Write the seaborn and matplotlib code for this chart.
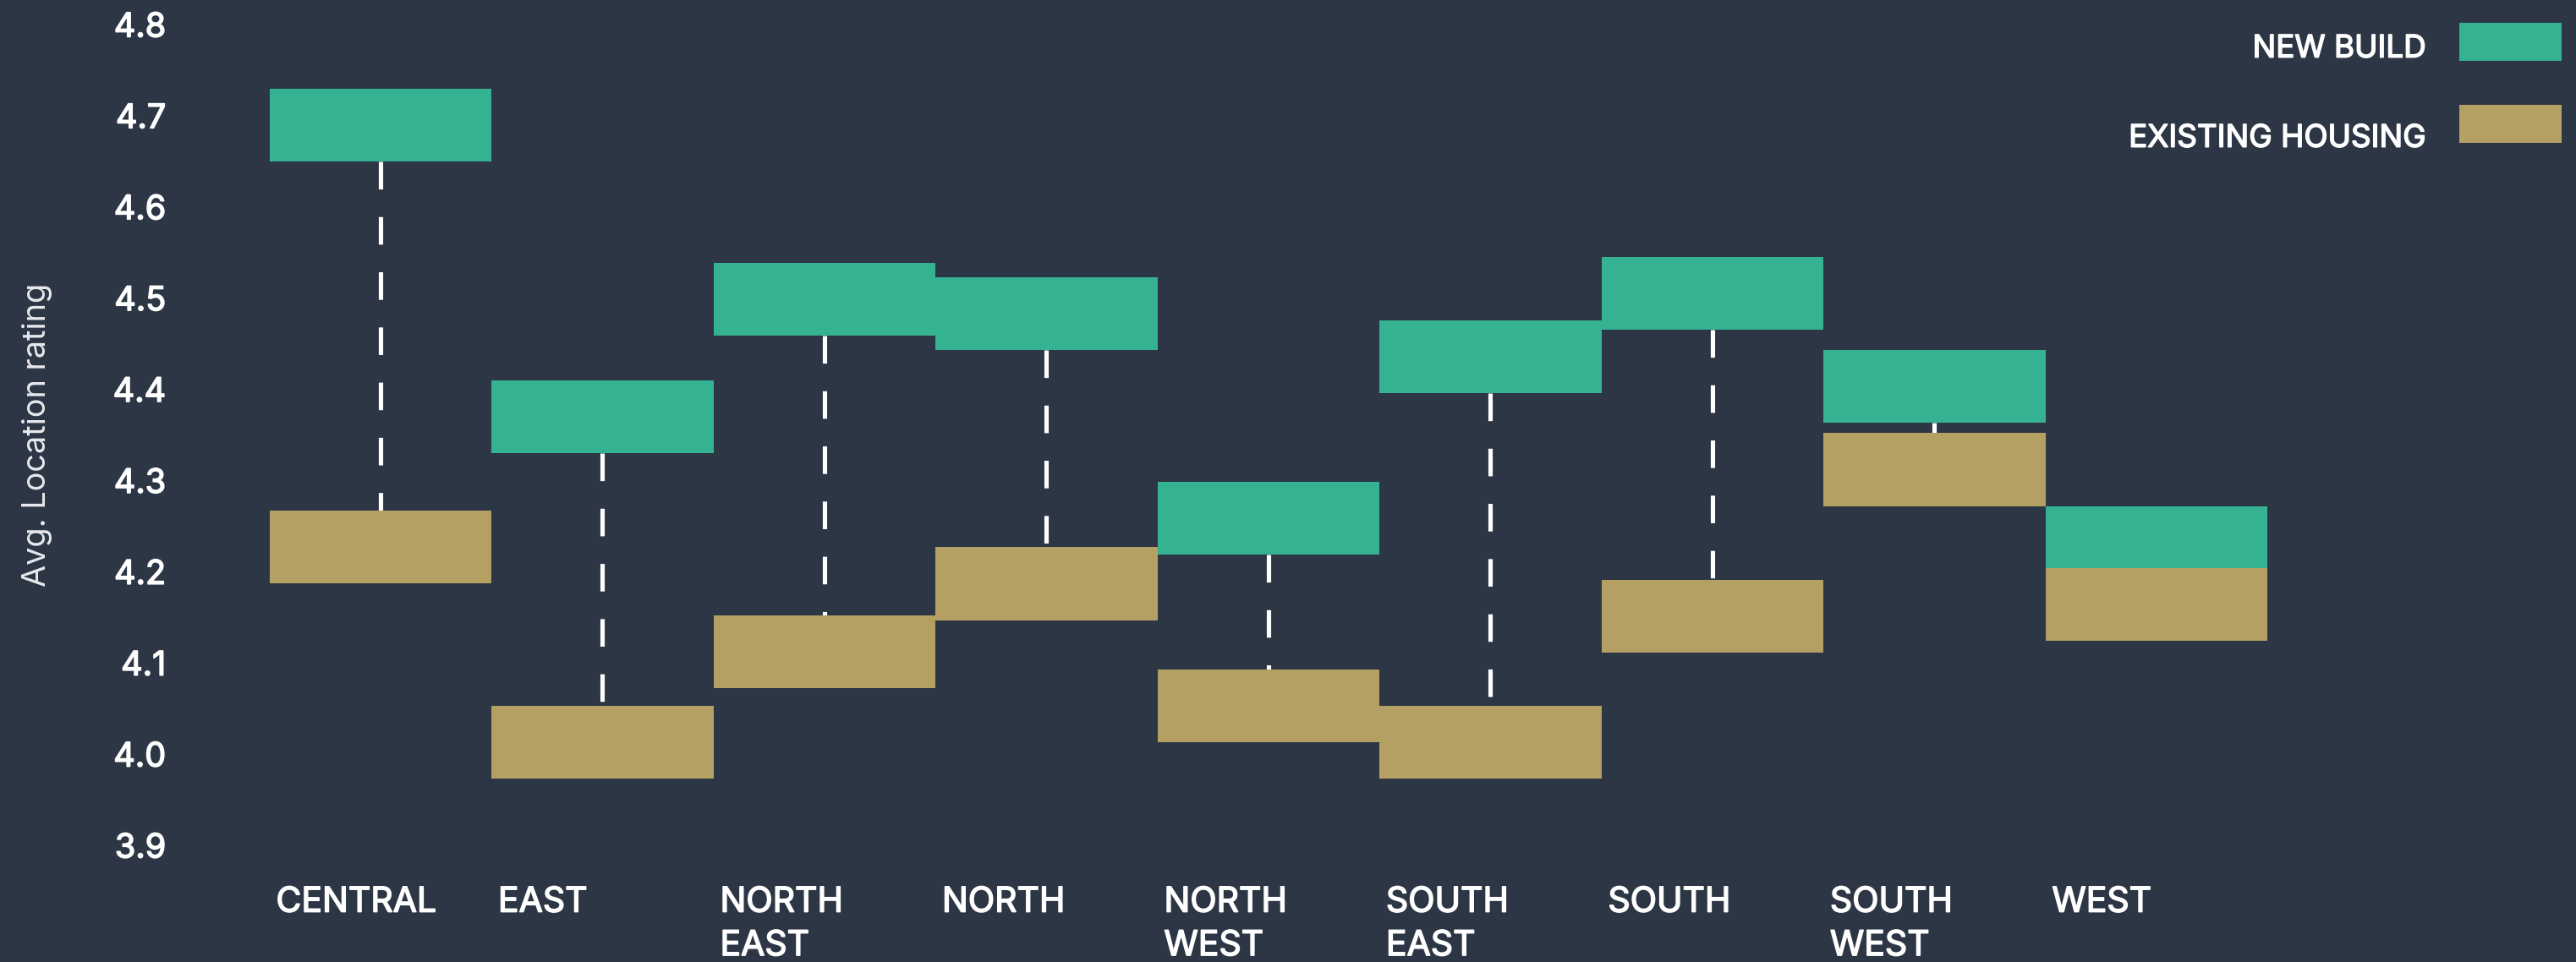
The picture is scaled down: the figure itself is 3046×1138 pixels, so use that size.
import numpy as np
import pandas as pd
import seaborn as sns
import matplotlib.pyplot as plt
import matplotlib.patheffects as pe
import matplotlib.transforms as mtransforms
from matplotlib.patches import Patch

# ---------------- data ----------------
regions = ["CENTRAL", "EAST", "NORTH\nEAST", "NORTH", "NORTH\nWEST",
           "SOUTH\nEAST", "SOUTH", "SOUTH\nWEST", "WEST"]
new_build = [4.690, 4.370, 4.499, 4.483, 4.259, 4.436, 4.505, 4.403, 4.232]
existing_housing = [4.227, 4.013, 4.112, 4.187, 4.053, 4.013, 4.151, 4.312, 4.164]
y_ticks = [3.9, 4.0, 4.1, 4.2, 4.3, 4.4, 4.5, 4.6, 4.7, 4.8]
series_labels = ["NEW BUILD", "EXISTING HOUSING"]
y_title = "Avg. Location rating"

# ---------------- style ----------------
BG = "#2C3644"
GREEN = "#35B292"
GOLD = "#B5A064"
WHITE = "#FFFFFF"
BOX = 0.08  # visual height of each floating box (rating units)
BOLDEN = [pe.withStroke(linewidth=1.1, foreground=WHITE)]

sns.set_theme(style="dark", rc={
    "axes.facecolor": BG, "figure.facecolor": BG,
    "axes.edgecolor": BG, "grid.color": BG,
    "text.color": WHITE, "xtick.color": WHITE, "ytick.color": WHITE,
    "axes.labelcolor": WHITE, "lines.scale_dashes": False,
})
plt.rcParams["font.family"] = ["Inter", "Lato", "DejaVu Sans"]

W, H = 3046, 1138
fig = plt.figure(figsize=(W / 100, H / 100), dpi=100, facecolor=BG)
ax = fig.add_axes([318.6 / W, 1 - 1000 / H, (2681 - 318.6) / W, (1000 - 29) / H])
ax.set_facecolor(BG)

df = pd.DataFrame({"region": regions, "new": new_build, "existing": existing_housing})
df["box"] = BOX

sns.barplot(data=df, x="region", y="box", bottom=df["new"].to_numpy() - BOX / 2,
            order=regions, color=GREEN, saturation=1, width=1.0, errorbar=None,
            linewidth=0, edgecolor="none", ax=ax, zorder=2)
sns.barplot(data=df, x="region", y="box", bottom=df["existing"].to_numpy() - BOX / 2,
            order=regions, color=GOLD, saturation=1, width=1.0, errorbar=None,
            linewidth=0, edgecolor="none", ax=ax, zorder=3)

# dashed connectors from the bottom of the new-build box down to the existing box
for i, (n, e) in enumerate(zip(df["new"], df["existing"])):
    ax.plot([i, i], [n - BOX / 2, e + BOX / 2], color=WHITE, lw=3.7,
            linestyle=(0, (23.5, 23.5)), zorder=1, solid_capstyle="butt",
            dash_capstyle="butt")

ax.set_ylim(y_ticks[0], y_ticks[-1])
ax.set_xlim(-0.5, len(regions) - 0.5)
ax.set_yticks(y_ticks)
ax.set_yticklabels([f"{t:.1f}" for t in y_ticks], fontsize=28.5)
ax.tick_params(axis="y", length=0, pad=88)
ax.set_xticks(np.arange(len(regions)) - 0.47)
ax.set_xticklabels(regions, fontsize=29.5, ha="left", linespacing=1.45)
ax.tick_params(axis="x", length=0, pad=35)
for lbl in ax.get_xticklabels() + ax.get_yticklabels():
    lbl.set_path_effects(BOLDEN)
ax.set_xlabel("")
ax.set_ylabel(y_title, fontsize=27.3, fontweight="normal", color="#E8EAED")
ax.yaxis.set_label_coords(-0.1085, 0.5)
ax.grid(False)
for s in ax.spines.values():
    s.set_visible(False)

handles = [Patch(facecolor=GREEN, edgecolor="none", label=series_labels[0]),
           Patch(facecolor=GOLD, edgecolor="none", label=series_labels[1])]
leg = fig.legend(handles=handles, loc="upper right", bbox_to_anchor=(3029 / W, 1 - 27 / H),
                 bbox_transform=fig.transFigure, frameon=False, markerfirst=False,
                 prop={"size": 26.5}, labelcolor=WHITE,
                 handlelength=3.3, handleheight=1.51, handletextpad=1.05,
                 labelspacing=1.41, borderpad=0, borderaxespad=0)
# labels sit slightly lower than the swatch centres in the reference
for t, dy in zip(leg.get_texts(), (6, 15)):
    t.set_path_effects(BOLDEN)
    t.set_transform(t.get_transform() + mtransforms.Affine2D().translate(0, -dy))

fig.savefig("out.png", dpi=100, facecolor=BG)
